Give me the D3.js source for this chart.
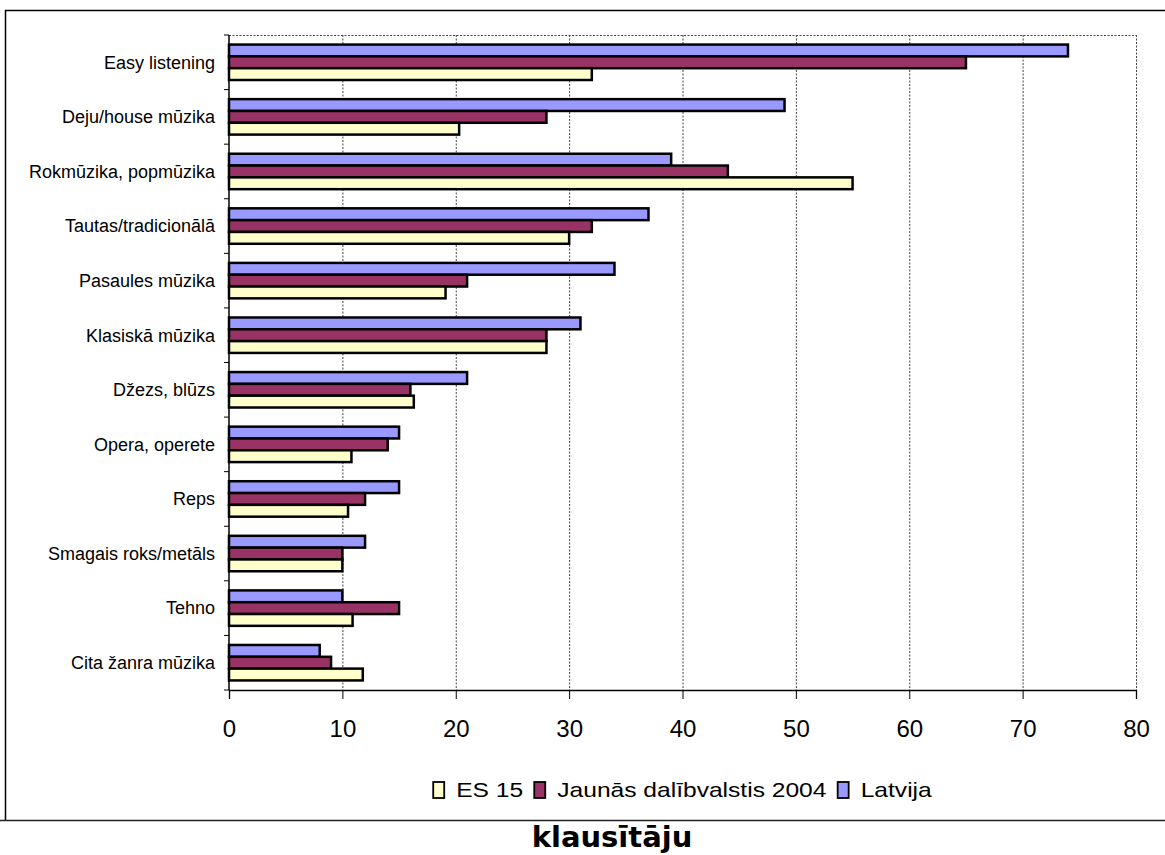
<!DOCTYPE html>
<html>
<head>
<meta charset="utf-8">
<script src="https://cdn.jsdelivr.net/npm/d3@7"></script>
<style>
  html, body { margin: 0; padding: 0; background: #fff; }
  svg { display: block; }
</style>
</head>
<body>
<svg id="chart" width="1165" height="855"></svg>
<script>
// Music genres listened to (share of listeners, %)
const categories = [
  "Easy listening",
  "Deju/house mūzika",
  "Rokmūzika, popmūzika",
  "Tautas/tradicionālā",
  "Pasaules mūzika",
  "Klasiskā mūzika",
  "Džezs, blūzs",
  "Opera, operete",
  "Reps",
  "Smagais roks/metāls",
  "Tehno",
  "Cita žanra mūzika"
];
const seriesNames = ["ES 15", "Jaunās dalībvalstis 2004", "Latvija"];
const es15    = [32, 20.3, 55, 30, 19.1, 28, 16.3, 10.8, 10.5, 10, 10.9, 11.8];
const jaunas  = [65, 28, 44, 32, 21, 28, 16, 14, 12, 10, 15, 9];
const latvija = [74, 49, 39, 37, 34, 31, 21, 15, 15, 12, 10, 8];
const xTicks  = [0, 10, 20, 30, 40, 50, 60, 70, 80];
const footerText = "klausītāju";

const colors = {
  "ES 15": "#FFFFCC",
  "Jaunās dalībvalstis 2004": "#993366",
  "Latvija": "#9999FF"
};
const seriesValues = {
  "ES 15": es15,
  "Jaunās dalībvalstis 2004": jaunas,
  "Latvija": latvija
};
// Within each category the bars run top to bottom: Latvija, Jaunās, ES 15
const barOrder = ["Latvija", "Jaunās dalībvalstis 2004", "ES 15"];

const svg = d3.select("#chart");
const font = "'Liberation Sans', Arial, sans-serif";

// Outer chart frame
svg.append("path")
  .attr("d", "M5.5,821 L5.5,10.5 L1165,10.5")
  .attr("fill", "none").attr("stroke", "#000").attr("stroke-width", 1.5);
svg.append("line")
  .attr("x1", 0).attr("x2", 1165).attr("y1", 820.5).attr("y2", 820.5)
  .attr("stroke", "#222").attr("stroke-width", 1.5);

const plot = { left: 229, right: 1136, top: 35, bottom: 690 };

const x = d3.scaleLinear().domain([0, 80]).range([plot.left, plot.right]);
const y = d3.scaleBand().domain(categories).range([plot.top, plot.bottom]).padding(0);
const yInner = d3.scaleBand().domain(barOrder).range([0, y.bandwidth()])
  .paddingInner(0).paddingOuter(0.81);

// Vertical dotted gridlines
svg.append("g").selectAll("line")
  .data(xTicks.slice(1))
  .join("line")
  .attr("x1", d => x(d) + 0.5).attr("x2", d => x(d) + 0.5)
  .attr("y1", plot.top).attr("y2", plot.bottom)
  .attr("stroke", "#444").attr("stroke-width", 1).attr("stroke-dasharray", "2,1.5");
// Dotted top edge of the plot area
svg.append("line")
  .attr("x1", plot.left).attr("x2", plot.right)
  .attr("y1", plot.top + 0.5).attr("y2", plot.top + 0.5)
  .attr("stroke", "#444").attr("stroke-width", 1).attr("stroke-dasharray", "2,1.5");

// Bars
const rows = [];
categories.forEach((c, i) => {
  barOrder.forEach(s => rows.push({ cat: c, series: s, value: seriesValues[s][i] }));
});
svg.append("g").selectAll("rect")
  .data(rows)
  .join("rect")
  .attr("x", x(0))
  .attr("y", d => y(d.cat) + yInner(d.series))
  .attr("width", d => x(d.value) - x(0))
  .attr("height", yInner.bandwidth())
  .attr("fill", d => colors[d.series])
  .attr("stroke", "#000")
  .attr("stroke-width", 2.5);

// X axis
const xAxis = svg.append("g")
  .attr("transform", `translate(0,${plot.bottom})`)
  .call(d3.axisBottom(x).tickValues(xTicks).tickSize(9).tickFormat(d3.format("d")));
xAxis.select(".domain").attr("stroke", "#000").attr("stroke-width", 1.3);
xAxis.selectAll(".tick line").attr("stroke", "#000").attr("stroke-width", 1);
xAxis.selectAll(".tick text")
  .attr("font-family", font).attr("font-size", 24).attr("fill", "#000")
  .attr("y", 47).attr("dy", null);

// Y axis with category boundary ticks
const yAxis = svg.append("g")
  .attr("transform", `translate(${plot.left},0)`);
yAxis.append("line")
  .attr("x1", 0).attr("x2", 0).attr("y1", plot.top).attr("y2", plot.bottom)
  .attr("stroke", "#000").attr("stroke-width", 1.5);
const boundaries = categories.map(c => y(c)).concat([plot.bottom]);
yAxis.selectAll("line.bt")
  .data(boundaries)
  .join("line").attr("class", "bt")
  .attr("x1", -5).attr("x2", 0)
  .attr("y1", d => d).attr("y2", d => d)
  .attr("stroke", "#000").attr("stroke-width", 1);
yAxis.selectAll("text")
  .data(categories)
  .join("text")
  .attr("x", -14)
  .attr("y", d => y(d) + y.bandwidth() / 2)
  .attr("dy", "0.35em")
  .attr("text-anchor", "end")
  .attr("font-family", font).attr("font-size", 18).attr("fill", "#000")
  .text(d => d);

// Legend (text is drawn slightly widened)
const legendOrder = ["ES 15", "Jaunās dalībvalstis 2004", "Latvija"];
const stretch = 1.2;
const legend = svg.append("g");
const items = legend.selectAll("g").data(legendOrder).join("g");
items.append("rect")
  .attr("width", 11).attr("height", 16)
  .attr("y", 782)
  .attr("fill", d => colors[d]).attr("stroke", "#000").attr("stroke-width", 1.8);
items.append("text")
  .attr("font-family", font).attr("font-size", 20.5).attr("fill", "#000")
  .text(d => d);
const widths = [];
items.select("text").each(function () { widths.push(this.getComputedTextLength() * stretch); });
const boxW = 11, gapBT = 12, gapItems = 11;
const total = widths.reduce((a, w) => a + boxW + gapBT + w, 0) + gapItems * (widths.length - 1);
let cx = (plot.left + plot.right) / 2 - total / 2;
items.each(function (d, i) {
  const g = d3.select(this);
  g.select("rect").attr("x", cx);
  const tx = cx + boxW + gapBT;
  g.select("text").attr("transform", `translate(${tx},797) scale(${stretch},1)`);
  cx = tx + widths[i] + gapItems;
});

// Footer caption
svg.append("text")
  .attr("x", 612).attr("y", 847)
  .attr("text-anchor", "middle")
  .attr("font-family", "'DejaVu Sans', sans-serif")
  .attr("font-weight", "bold").attr("font-size", 29).attr("fill", "#000")
  .text(footerText);
</script>
</body>
</html>
